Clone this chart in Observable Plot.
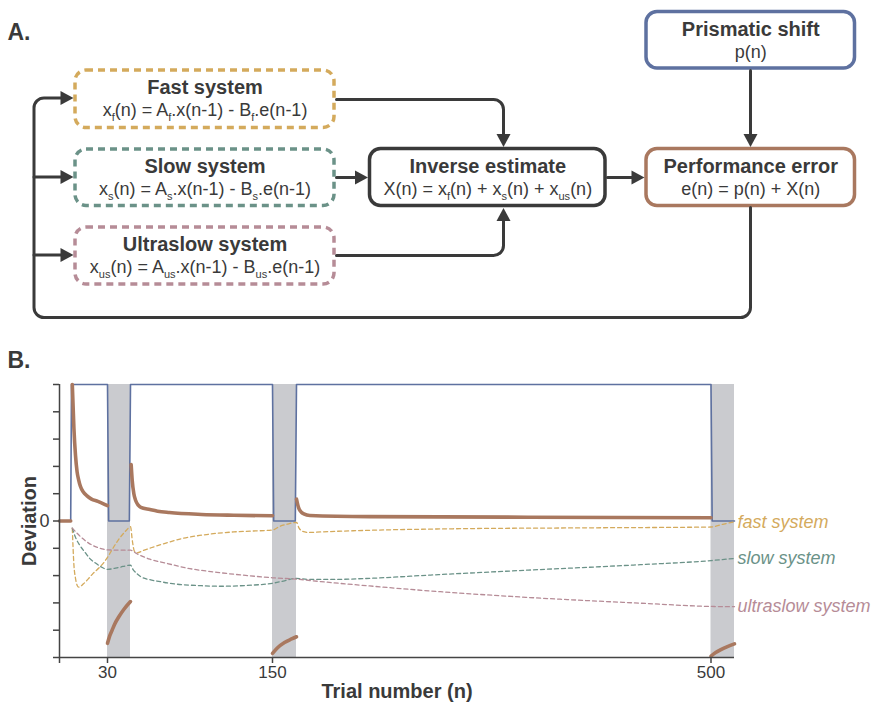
<!DOCTYPE html>
<html>
<head>
<meta charset="utf-8">
<script src="https://cdn.jsdelivr.net/npm/d3@7"></script>
<script src="https://cdn.jsdelivr.net/npm/@observablehq/plot@0.6"></script>
<style>
  html, body { margin: 0; padding: 0; background: #fff; overflow: hidden; }
  svg { display: block; }
</style>
</head>
<body>
<div id="chart"></div>
<script>
// ======================= DATA =======================
// Panel A: boxes of the model diagram
const boxIds = ["fast", "slow", "ultraslow", "inverse", "error", "prism"];
const boxTitles = ["Fast system", "Slow system", "Ultraslow system", "Inverse estimate", "Performance error", "Prismatic shift"];
const boxEquations = [
  "x_{f}(n) = A_{f}.x(n-1) - B_{f}.e(n-1)",
  "x_{s}(n) = A_{s}.x(n-1) - B_{s}.e(n-1)",
  "x_{us}(n) = A_{us}.x(n-1) - B_{us}.e(n-1)",
  "X(n) = x_{f}(n) + x_{s}(n) + x_{us}(n)",
  "e(n) = p(n) + X(n)",
  "p(n)"
];

// Panel B: trial axis
const trialTicks = [0, 30, 150, 500];
const trialBreaks = [0, 30, 40, 150, 160, 500, 510];
const postPhaseStart = [30, 150, 500];
const postPhaseEnd = [40, 160, 510];
const deviationTicks = [-5, -4, -3, -2, -1, 0, 1, 2, 3, 4, 5];

// prismatic shift p(n)
const prismTrials = [0, 7, 7.5, 30, 30.5, 39.5, 40, 150, 150.5, 159.5, 160, 500, 500.5, 510];
const prismValues = [0, 0, 5, 5, 0, 0, 5, 5, 0, 0, 5, 5, 0, 0];

// performance error e(n), one array per phase
const errBaseline = [[0, 0], [7, 0]];
const errExposure1 = [[8, 5.0], [9, 3.4], [10, 2.4], [11, 1.8], [12, 1.5], [13, 1.28], [15, 1.05], [17, 0.93], [20, 0.8], [24, 0.72], [30, 0.56]];
const errPost1 = [[30, -4.48], [31, -4.2], [32, -4.0], [33, -3.8], [35, -3.5], [37, -3.25], [40, -2.95]];
const errExposure2 = [[40.5, 2.07], [41.3, 1.5], [42.6, 1.0], [44, 0.75], [46, 0.58], [48, 0.5], [55, 0.42], [61, 0.36], [70, 0.31], [95, 0.24], [120, 0.21], [150, 0.19]];
const errPost2 = [[150, -4.85], [152, -4.65], [155, -4.45], [158, -4.32], [160, -4.24]];
const errExposure3 = [[160, 0.8], [161, 0.6], [162, 0.45], [164, 0.32], [166, 0.26], [171, 0.2], [220, 0.16], [350, 0.14], [500, 0.12]];
const errPost3 = [[500, -4.95], [502, -4.82], [504, -4.72], [507, -4.6], [510, -4.5]];

// components of the inverse estimate
const fastState = [[8, -0.27], [9, -1.6], [10, -2.1], [11, -2.35], [12, -2.42], [13, -2.4], [15, -2.3], [18, -2.12], [21, -1.92], [25, -1.7], [28, -1.5], [30, -1.33], [32, -1.05], [34, -0.78], [36, -0.55], [38, -0.36], [40, -0.21], [41.5, -0.75], [43, -1.1], [45, -1.17], [50, -1.08], [56, -0.98], [68, -0.8], [81, -0.63], [95, -0.52], [107, -0.45], [120, -0.4], [133, -0.37], [150, -0.33], [153, -0.2], [156, -0.12], [160, -0.05], [162, -0.25], [165, -0.38], [170, -0.42], [180, -0.4], [220, -0.34], [280, -0.29], [400, -0.25], [500, -0.22], [505, -0.12], [510, -0.03]];
const slowState = [[8, -0.26], [10, -0.6], [13, -0.92], [16, -1.15], [19, -1.38], [22, -1.52], [26, -1.68], [30, -1.77], [35, -1.7], [40, -1.62], [42, -1.78], [45, -1.93], [48, -2.04], [55, -2.15], [63, -2.22], [70, -2.28], [95, -2.37], [110, -2.39], [130, -2.36], [150, -2.28], [155, -2.19], [160, -2.1], [170, -2.14], [190, -2.14], [220, -2.1], [270, -1.98], [350, -1.8], [442, -1.6], [500, -1.45], [510, -1.37]];
const ultraslowState = [[8, -0.26], [11, -0.45], [14, -0.62], [18, -0.8], [22, -0.93], [26, -1.01], [30, -1.06], [40, -1.07], [45, -1.2], [55, -1.4], [68, -1.55], [81, -1.7], [107, -1.88], [133, -2.01], [150, -2.08], [160, -2.13], [180, -2.22], [220, -2.38], [278, -2.59], [350, -2.8], [442, -3.01], [500, -3.13], [510, -3.14]];
const componentNames = ["fast system", "slow system", "ultraslow system"];

// ======================= STYLE / LAYOUT =======================
const FONT = "'Liberation Sans', Arial, Helvetica, sans-serif";
const INK = "#3a3a3a";
const GOLD = "#d4aa5c", GREEN = "#6b9288", MAUVE = "#b68c97", BLUE = "#5e71a0", BROWN = "#a9785f";
const BAND = "#cacbcf", AXIS = "#444";

const boxLayout = {
  fast:      {x1: 75,    x2: 334,   y1: 70,    y2: 127.5},
  slow:      {x1: 75,    x2: 334,   y1: 149,   y2: 205.5},
  ultraslow: {x1: 75,    x2: 334,   y1: 227,   y2: 284},
  inverse:   {x1: 369.5, x2: 605,   y1: 148.5, y2: 205.5},
  error:     {x1: 646,   x2: 854.5, y1: 148.5, y2: 205.5},
  prism:     {x1: 646,   x2: 854.5, y1: 11.5,  y2: 68}
};
const boxStyle = {
  fast: {stroke: GOLD, dash: "7,5"},
  slow: {stroke: GREEN, dash: "7,5"},
  ultraslow: {stroke: MAUVE, dash: "7,5"},
  inverse: {stroke: INK, dash: null},
  error: {stroke: BROWN, dash: null},
  prism: {stroke: BLUE, dash: null}
};
const connectorLayout = [
  [[336, 99], [503, 99], [503, 146.5]],
  [[336, 255], [503, 255], [503, 207.5]],
  [[336, 177], [367.5, 177]],
  [[607, 177], [644, 177]],
  [[750, 70], [750, 146.5]],
  [[750, 207], [750, 317], [33.5, 317], [33.5, 97.5], [73, 97.5]],
  [[33.5, 176.5], [73, 176.5]],
  [[33.5, 254.5], [73, 254.5]]
];
const AL = 13, AW = 7; // arrowhead length / half width

// rounded-corner curve for connectors
function roundedCorners(r) {
  return function (context) {
    let pts = [];
    return {
      areaStart() {}, areaEnd() {},
      lineStart() { pts = []; },
      point(x, y) { pts.push([+x, +y]); },
      lineEnd() {
        if (!pts.length) return;
        context.moveTo(pts[0][0], pts[0][1]);
        for (let i = 1; i < pts.length - 1; ++i) context.arcTo(pts[i][0], pts[i][1], pts[i + 1][0], pts[i + 1][1], r);
        const l = pts[pts.length - 1];
        context.lineTo(l[0], l[1]);
      }
    };
  };
}
const arrowSymbols = {
  right: {draw(c) { c.moveTo(0, 0); c.lineTo(-AL, -AW); c.lineTo(-AL, AW); c.closePath(); }},
  left:  {draw(c) { c.moveTo(0, 0); c.lineTo(AL, -AW); c.lineTo(AL, AW); c.closePath(); }},
  down:  {draw(c) { c.moveTo(0, 0); c.lineTo(-AW, -AL); c.lineTo(AW, -AL); c.closePath(); }},
  up:    {draw(c) { c.moveTo(0, 0); c.lineTo(-AW, AL); c.lineTo(AW, AL); c.closePath(); }}
};

// ======================= PANEL A =======================
const boxes = boxIds.map((id, i) => ({id, title: boxTitles[i], eq: boxEquations[i], ...boxLayout[id], ...boxStyle[id]}));
const lineRows = [];
const tips = {right: [], left: [], up: [], down: []};
connectorLayout.forEach((pts, k) => {
  const n = pts.length;
  const [px, py] = pts[n - 2], [tx, ty] = pts[n - 1];
  const dx = Math.sign(tx - px), dy = Math.sign(ty - py);
  const dir = dx > 0 ? "right" : dx < 0 ? "left" : dy > 0 ? "down" : "up";
  tips[dir].push({x: tx, y: ty});
  pts.forEach((p, i) => {
    const last = i === n - 1;
    lineRows.push({id: k, x: last ? p[0] - dx * (AL - 2) : p[0], y: last ? p[1] - dy * (AL - 2) : p[1]});
  });
});

const marksA = [];
boxes.forEach(b => {
  marksA.push(Plot.rect([b], {x1: "x1", x2: "x2", y1: "y1", y2: "y2", rx: 11, ry: 11,
    fill: "white", stroke: b.stroke, strokeWidth: 3.5, strokeDasharray: b.dash || undefined}));
});
marksA.push(Plot.line(lineRows, {x: "x", y: "y", z: "id", stroke: INK, strokeWidth: 3, curve: roundedCorners(10)}));
Object.entries(tips).forEach(([dir, pts]) => {
  if (pts.length) marksA.push(Plot.dot(pts, {x: "x", y: "y", symbol: arrowSymbols[dir], r: 5, fill: INK, stroke: "none"}));
});
marksA.push(Plot.text(boxes, {x: d => (d.x1 + d.x2) / 2, y: d => d.y1 + 23.5, text: "title", fontWeight: "bold", fontSize: 20, fill: INK, lineAnchor: "bottom"}));
marksA.push(Plot.text(boxes, {x: d => (d.x1 + d.x2) / 2, y: d => d.y1 + 45.5, text: "eq", fontSize: 18, fill: INK, lineAnchor: "bottom"}));
marksA.push(Plot.text(["A."], {x: 7, y: 39, text: d => d, fontWeight: "bold", fontSize: 23, fill: INK, textAnchor: "start", lineAnchor: "bottom"}));

const chartA = Plot.plot({
  width: 871, height: 340, margin: 0,
  x: {type: "identity", axis: null},
  y: {type: "identity", axis: null},
  style: {fontFamily: FONT, background: "white", overflow: "visible"},
  marks: marksA
});

// subscripts: x_{f} -> x with lowered small f
chartA.querySelectorAll("text").forEach(t => {
  const s = t.textContent;
  if (!s.includes("_{")) return;
  t.textContent = "";
  const NS = "http://www.w3.org/2000/svg";
  const SUB = 5;
  const re = /_\{([^}]*)\}/g;
  let last = 0, m, shifted = false;
  const add = (str, dy, small) => {
    if (!str) return;
    const ts = document.createElementNS(NS, "tspan");
    ts.textContent = str;
    if (dy) ts.setAttribute("dy", dy);
    if (small) ts.setAttribute("font-size", "11");
    t.appendChild(ts);
  };
  while ((m = re.exec(s))) {
    add(s.slice(last, m.index), shifted ? -SUB : 0, false);
    add(m[1], SUB, true);
    shifted = true;
    last = re.lastIndex;
  }
  add(s.slice(last), shifted ? -SUB : 0, false);
});

// ======================= PANEL B =======================
const bands = postPhaseStart.map((s, i) => ({start: s, end: postPhaseEnd[i]}));
const prism = prismTrials.map((t, i) => ({t, v: prismValues[i]}));
const errSegments = [errBaseline, errExposure1, errPost1, errExposure2, errPost2, errExposure3, errPost3];
const errRows = errSegments.flatMap((seg, k) => seg.map(([t, v]) => ({seg: k, t, v})));
const componentSeries = [fastState, slowState, ultraslowState];
const componentColors = [GOLD, GREEN, MAUVE];

const marksB = [
  Plot.rect(bands, {x1: "start", x2: "end", y1: -5, y2: 5, fill: BAND}),
  Plot.line(prism, {x: "t", y: "v", stroke: BLUE, strokeWidth: 1.6})
];
componentSeries.forEach((series, i) => {
  marksB.push(Plot.line(series, {x: d => d[0], y: d => d[1], stroke: componentColors[i], strokeWidth: 1.3, strokeDasharray: "4,3", curve: "monotone-x"}));
  marksB.push(Plot.text([series[series.length - 1]], {x: d => d[0], y: d => d[1], text: () => componentNames[i], fill: componentColors[i],
    dx: 3, textAnchor: "start", fontStyle: "italic", fontSize: 18}));
});
marksB.push(
  Plot.line(errRows, {x: "t", y: "v", z: "seg", stroke: BROWN, strokeWidth: 3.6, curve: "monotone-x", strokeLinecap: "round"}),
  Plot.ruleX([0], {y1: -5, y2: 5, stroke: AXIS, strokeWidth: 1.5}),
  Plot.ruleY([-5], {x1: 0, x2: 510, stroke: AXIS, strokeWidth: 1.5}),
  Plot.axisY({ticks: deviationTicks, tickSize: 6, tickPadding: 4, strokeWidth: 1.5, stroke: AXIS, fill: INK, fontSize: 18,
    tickFormat: d => d === 0 ? "0" : "", label: null}),
  Plot.axisX({ticks: trialTicks, tickSize: 6, tickPadding: 2, strokeWidth: 1.5, stroke: AXIS, fill: INK, fontSize: 17,
    tickFormat: d => d === 0 ? "" : String(d), label: null}),
  Plot.text(["Trial number (n)"], {frameAnchor: "bottom", dy: 40, text: d => d, fontWeight: "bold", fontSize: 20, fill: INK, lineAnchor: "bottom"}),
  Plot.text(["Deviation"], {frameAnchor: "left", dx: -24, rotate: -90, text: d => d, fontWeight: "bold", fontSize: 20, fill: INK, textAnchor: "middle", lineAnchor: "bottom"}),
  Plot.text(["B."], {frameAnchor: "top-left", dx: -52, dy: -17, text: d => d, fontWeight: "bold", fontSize: 23, fill: INK, textAnchor: "start", lineAnchor: "bottom"})
);

const chartB = Plot.plot({
  width: 871, height: 362,
  marginLeft: 59, marginRight: 137, marginTop: 44, marginBottom: 45,
  x: {type: "linear", domain: trialBreaks, range: [59, 107, 130, 272, 296, 710.5, 734]},
  y: {domain: [-5, 5]},
  style: {fontFamily: FONT, background: "white", overflow: "visible", color: INK},
  marks: marksB
});

const root = document.getElementById("chart");
root.appendChild(chartA);
root.appendChild(chartB);
</script>
</body>
</html>
